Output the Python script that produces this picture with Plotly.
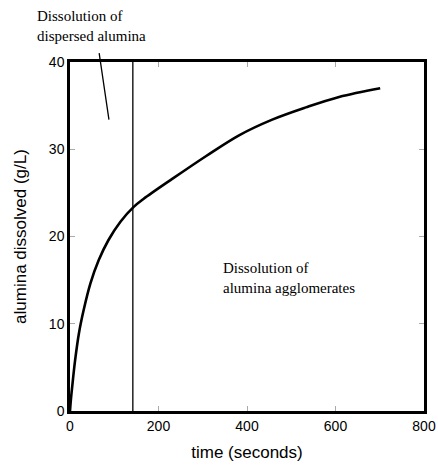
import plotly.graph_objects as go

time_s = [0, 2, 5, 11.5, 20.5, 31, 46, 65, 87, 114, 144, 166, 231, 307, 382, 457, 533, 608, 701]
dissolved = [0, 1.3, 2.8, 5.8, 9.0, 11.6, 14.6, 17.3, 19.6, 21.7, 23.4, 24.3, 26.6, 29.2, 31.6, 33.4, 34.8, 36.0, 37.0]
boundary_t = 142

x_ticks = [0, 200, 400, 600, 800]
y_ticks = [0, 10, 20, 30, 40]

fig = go.Figure()
fig.add_trace(go.Scatter(x=time_s, y=dissolved, mode="lines",
                         line=dict(color="black", width=2.6, shape="spline", smoothing=1.0),
                         hoverinfo="skip", showlegend=False))
fig.add_trace(go.Scatter(x=[boundary_t, boundary_t], y=[0, 40], mode="lines",
                         line=dict(color="black", width=1.3), hoverinfo="skip", showlegend=False))

axis_common = dict(showgrid=False, zeroline=False, showline=True, linecolor="black",
                   linewidth=2.5, mirror="ticks", ticks="inside", ticklen=5,
                   tickcolor="#aaaaaa", tickwidth=1, automargin=False,
                   tickfont=dict(family="Liberation Sans, Arial", size=14, color="black"))

fig.update_xaxes(range=[0, 800], tickvals=x_ticks, **axis_common,
                 title=dict(text="time (seconds)", standoff=14,
                            font=dict(family="Liberation Sans, Arial", size=17, color="black")))
fig.update_yaxes(range=[0, 40], tickvals=y_ticks, **axis_common,
                 title=dict(text="alumina dissolved (g/L)", standoff=18,
                            font=dict(family="Liberation Sans, Arial", size=17, color="black")))

serif = dict(family="Liberation Serif, Times New Roman", size=15, color="black")
fig.add_annotation(xref="paper", yref="paper", x=-0.098, y=1.103, xanchor="left", yanchor="middle",
                   text="Dissolution of<br>dispersed alumina", showarrow=False, align="left", font=serif)
fig.add_annotation(x=88, y=33.4, xref="x", yref="y", text="", showarrow=True,
                   axref="pixel", ayref="pixel", ax=-10, ay=-68, arrowhead=0,
                   arrowwidth=1.3, arrowcolor="black", standoff=0, startstandoff=0)
fig.add_annotation(x=342, y=15.2, xref="x", yref="y", xanchor="left", yanchor="middle",
                   text="Dissolution of<br>alumina agglomerates", showarrow=False, align="left", font=serif)

fig.update_layout(width=438, height=469, margin=dict(l=70, r=14, t=62, b=58),
                  plot_bgcolor="white", paper_bgcolor="white")

fig.write_html("out.html")
